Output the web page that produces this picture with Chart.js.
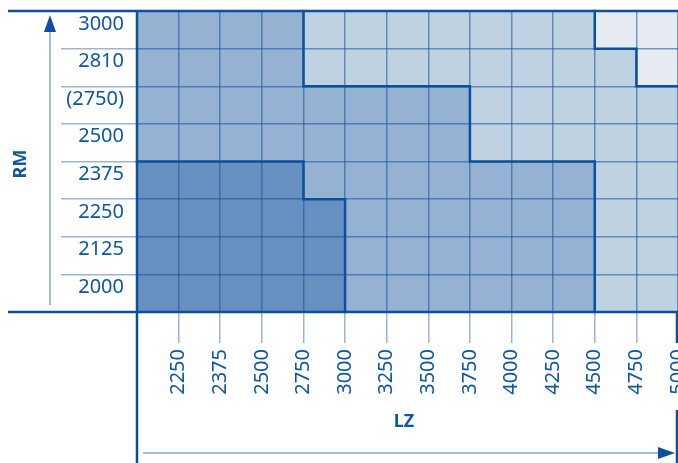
<!DOCTYPE html>
<html>
<head>
<meta charset="utf-8">
<script src="https://cdn.jsdelivr.net/npm/chart.js@4/dist/chart.umd.min.js"></script>
<style>
  html, body { margin: 0; padding: 0; background: #fff; }
  #wrap { width: 678px; height: 463px; position: relative; }
</style>
</head>
<body>
<div id="wrap"><canvas id="myChart"></canvas></div>
<script>
// LZ columns, labelled by their upper bound
const lzLabels = ['2250', '2375', '2500', '2750', '3000', '3250', '3500', '3750', '4000', '4250', '4500', '4750', '5000'];
// RM rows, top to bottom
const rmLabels = ['3000', '2810', '(2750)', '2500', '2375', '2250', '2125', '2000'];

// class of each cell, rows top to bottom: 0 = very light ... 3 = dark
const row3000 = [2, 2, 2, 2, 1, 1, 1, 1, 1, 1, 1, 0, 0];
const row2810 = [2, 2, 2, 2, 1, 1, 1, 1, 1, 1, 1, 1, 0];
const row2750 = [2, 2, 2, 2, 2, 2, 2, 2, 1, 1, 1, 1, 1];
const row2500 = [2, 2, 2, 2, 2, 2, 2, 2, 1, 1, 1, 1, 1];
const row2375 = [3, 3, 3, 3, 2, 2, 2, 2, 2, 2, 2, 1, 1];
const row2250 = [3, 3, 3, 3, 3, 2, 2, 2, 2, 2, 2, 1, 1];
const row2125 = [3, 3, 3, 3, 3, 2, 2, 2, 2, 2, 2, 1, 1];
const row2000 = [3, 3, 3, 3, 3, 2, 2, 2, 2, 2, 2, 1, 1];
const levels = [row3000, row2810, row2750, row2500, row2375, row2250, row2125, row2000];

const levelColors = ['#e5ebf1', '#bed2e2', '#96b2d2', '#6590bf'];
const dark = '#0b4f9e';
const txt = '#0f56a3';

// one stacked dataset per row, bottom row first
const datasets = levels.slice().reverse().map((row, i) => ({
    label: rmLabels[rmLabels.length - 1 - i],
    data: row.map(() => 1),
    backgroundColor: row.map(l => levelColors[l]),
    borderWidth: 0,
    barPercentage: 1,
    categoryPercentage: 1,
    yAxisID: 'yv'
}));

const frame = {
    id: 'frame',
    afterDraw(chart) {
        const ctx = chart.ctx;
        const a = chart.chartArea;
        const x = chart.scales.x;
        const yv = chart.scales.yv;
        const nR = levels.length, nC = lzLabels.length;
        const px = c => x.getPixelForValue(c - 0.5);
        const py = r => yv.getPixelForValue(nR - r);
        ctx.save();
        ctx.strokeStyle = dark;
        ctx.lineWidth = 2.5;
        ctx.lineCap = 'square';
        ctx.beginPath();
        // borders where the class changes
        for (let r = 0; r < nR; r++) {
            for (let c = 0; c < nC; c++) {
                if (c + 1 < nC && levels[r][c] !== levels[r][c + 1]) {
                    ctx.moveTo(px(c + 1), py(r));
                    ctx.lineTo(px(c + 1), py(r + 1));
                }
                if (r + 1 < nR && levels[r][c] !== levels[r + 1][c]) {
                    ctx.moveTo(px(c), py(r + 1));
                    ctx.lineTo(px(c + 1), py(r + 1));
                }
            }
        }
        ctx.stroke();
        // outer lines
        ctx.lineCap = 'butt';
        ctx.beginPath();
        ctx.moveTo(8, a.top); ctx.lineTo(a.right, a.top);
        ctx.moveTo(8, a.bottom); ctx.lineTo(a.right, a.bottom);
        ctx.stroke();
        ctx.beginPath();
        ctx.moveTo(a.left, a.top); ctx.lineTo(a.left, 463);
        ctx.moveTo(a.right - 1, a.bottom); ctx.lineTo(a.right - 1, 343);
        ctx.moveTo(a.right - 1, 410); ctx.lineTo(a.right - 1, 463);
        ctx.stroke();

        // arrows
        ctx.strokeStyle = '#a6bad4';
        ctx.lineWidth = 2;
        ctx.beginPath();
        ctx.moveTo(50, 305); ctx.lineTo(50, 28);
        ctx.moveTo(143, 453); ctx.lineTo(662, 453);
        ctx.stroke();
        ctx.fillStyle = dark;
        ctx.beginPath();
        ctx.moveTo(50, 15); ctx.lineTo(56, 32); ctx.lineTo(44, 32); ctx.closePath();
        ctx.fill();
        ctx.beginPath();
        ctx.moveTo(675, 453); ctx.lineTo(658, 447); ctx.lineTo(658, 459); ctx.closePath();
        ctx.fill();

        // axis names
        ctx.fillStyle = txt;
        ctx.font = 'bold 18px "Noto Sans"';
        ctx.textAlign = 'center';
        ctx.textBaseline = 'middle';
        ctx.fillText('LZ', 404, 422);
        ctx.translate(21, 164);
        ctx.rotate(-Math.PI / 2);
        ctx.fillText('RM', 0, 0);
        ctx.restore();
    }
};

new Chart('myChart', {
    type: 'bar',
    data: { labels: lzLabels, datasets: datasets },
    options: {
        responsive: true,
        maintainAspectRatio: false,
        animation: false,
        events: [],
        layout: { padding: { top: 11, right: 0, left: 0, bottom: 0 } },
        plugins: { legend: { display: false }, tooltip: { enabled: false } },
        scales: {
            x: {
                stacked: true,
                afterFit: s => { s.height = 151; s.paddingLeft = 0; s.paddingRight = 0; },
                border: { display: false },
                grid: {
                    z: 1,
                    offset: true,
                    color: 'rgba(20, 80, 155, 0.55)',
                    tickColor: '#9ab5d4',
                    tickLength: 31,
                    lineWidth: 1.5
                },
                ticks: {
                    color: txt,
                    font: { family: '"Noto Sans"', size: 20 },
                    minRotation: 90,
                    maxRotation: 90,
                    autoSkip: false,
                    labelOffset: 20.8,
                    padding: 6
                }
            },
            yv: {
                display: false,
                stacked: true,
                min: 0,
                max: 8
            },
            y: {
                type: 'category',
                labels: rmLabels,
                position: 'left',
                offset: true,
                afterFit: s => { s.width = 137; s.paddingTop = 0; s.paddingBottom = 0; },
                border: { display: false },
                grid: {
                    z: 1,
                    offset: true,
                    color: 'rgba(20, 80, 155, 0.55)',
                    tickColor: '#9fb5cf',
                    tickLength: 76,
                    lineWidth: 1.5
                },
                ticks: {
                    color: txt,
                    font: { family: '"Noto Sans"', size: 20 },
                    padding: -63,
                    labelOffset: -6
                }
            }
        }
    },
    plugins: [frame]
});
</script>
</body>
</html>
